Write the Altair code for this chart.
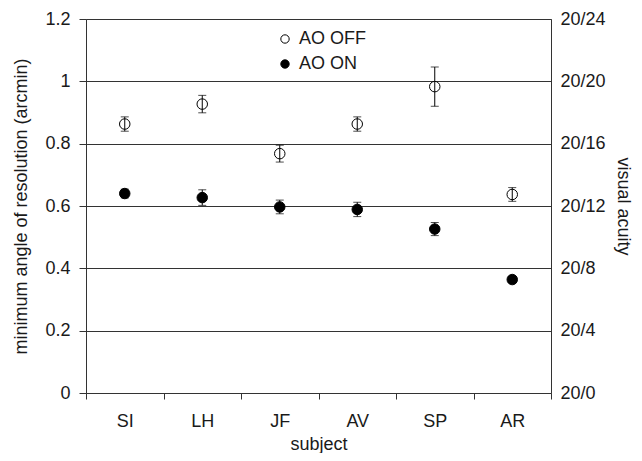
import altair as alt
import pandas as pd

subjects = ["SI", "LH", "JF", "AV", "SP", "AR"]
conditions = ["AO OFF", "AO ON"]
off_mean = [0.863, 0.927, 0.768, 0.863, 0.983, 0.637]
off_err = [0.023, 0.028, 0.027, 0.023, 0.063, 0.022]
on_mean = [0.640, 0.627, 0.597, 0.589, 0.526, 0.364]
on_err = [0.014, 0.025, 0.022, 0.023, 0.021, 0.010]
y_ticks = [0, 0.2, 0.4, 0.6, 0.8, 1.0, 1.2]

rows = []
for i, s in enumerate(subjects):
    rows.append(dict(subject=s, condition="AO OFF", mean=off_mean[i],
                     lo=off_mean[i] - off_err[i], hi=off_mean[i] + off_err[i]))
for i, s in enumerate(subjects):
    rows.append(dict(subject=s, condition="AO ON", mean=on_mean[i],
                     lo=on_mean[i] - on_err[i], hi=on_mean[i] + on_err[i]))
df = pd.DataFrame(rows)

FONT = "Liberation Sans"
TXT = "#1a1a1a"
FS = 18

x_enc = alt.X("subject:N", sort=subjects,
              scale=alt.Scale(type="band", paddingInner=0, paddingOuter=0),
              axis=alt.Axis(title="subject", tickBand="extent", tickSize=6,
                            labelPadding=13, titlePadding=5, labelAngle=0,
                            domain=False))
yscale = alt.Scale(domain=[0, 1.2], nice=False, zero=True)


def left_axis():
    return alt.Axis(title="minimum angle of resolution (arcmin)",
                    values=y_ticks, format="~g", grid=True,
                    tickSize=7, labelPadding=9, titlePadding=14,
                    domain=False)


base = alt.Chart(df)

points = base.mark_circle(size=110, stroke="black", strokeWidth=1, opacity=1).encode(
    x=x_enc,
    y=alt.Y("mean:Q", scale=yscale, axis=left_axis()),
    fill=alt.Fill("condition:N",
                  scale=alt.Scale(domain=conditions, range=["white", "black"]),
                  legend=alt.Legend(title=None, orient="none", legendX=190,
                                    legendY=11, labelFontSize=FS, labelFont=FONT,
                                    labelColor=TXT, symbolType="circle",
                                    symbolSize=70, symbolStrokeColor="black",
                                    symbolStrokeWidth=1, rowPadding=7,
                                    padding=0, labelOffset=5)),
)

rules = base.mark_rule(color="black", strokeWidth=1).encode(
    x=x_enc,
    y=alt.Y("lo:Q", scale=yscale, axis=left_axis()),
    y2="hi:Q",
)
cap_lo = base.mark_tick(color="black", size=8, thickness=1).encode(
    x=x_enc, y=alt.Y("lo:Q", scale=yscale, axis=left_axis()))
cap_hi = base.mark_tick(color="black", size=8, thickness=1).encode(
    x=x_enc, y=alt.Y("hi:Q", scale=yscale, axis=left_axis()))

inner = alt.layer(points, rules, cap_lo, cap_hi)

right = base.mark_point(opacity=0).encode(
    x=x_enc,
    y=alt.Y("mean:Q", scale=yscale,
            axis=alt.Axis(orient="right", title="visual acuity", values=y_ticks,
                          labelExpr="'20/' + round(datum.value * 20)",
                          grid=False, ticks=False, labelPadding=9,
                          titlePadding=8, domain=False)),
)

chart = alt.layer(inner, right).resolve_scale(y="independent").properties(
    width=465, height=374,
    autosize=alt.AutoSizeParams(type="none"),
    padding={"left": 78, "top": 11, "right": 83, "bottom": 60},
).configure_view(
    stroke="#333333", strokeWidth=1
).configure_axis(
    labelFont=FONT, titleFont=FONT, labelFontSize=FS, titleFontSize=FS,
    labelColor=TXT, titleColor=TXT, titleFontWeight="normal",
    tickColor="#333333", gridColor="#333333", gridWidth=1, domainColor="#333333"
)

chart.save("out.html", embed_options={"renderer": "svg", "actions": False})
